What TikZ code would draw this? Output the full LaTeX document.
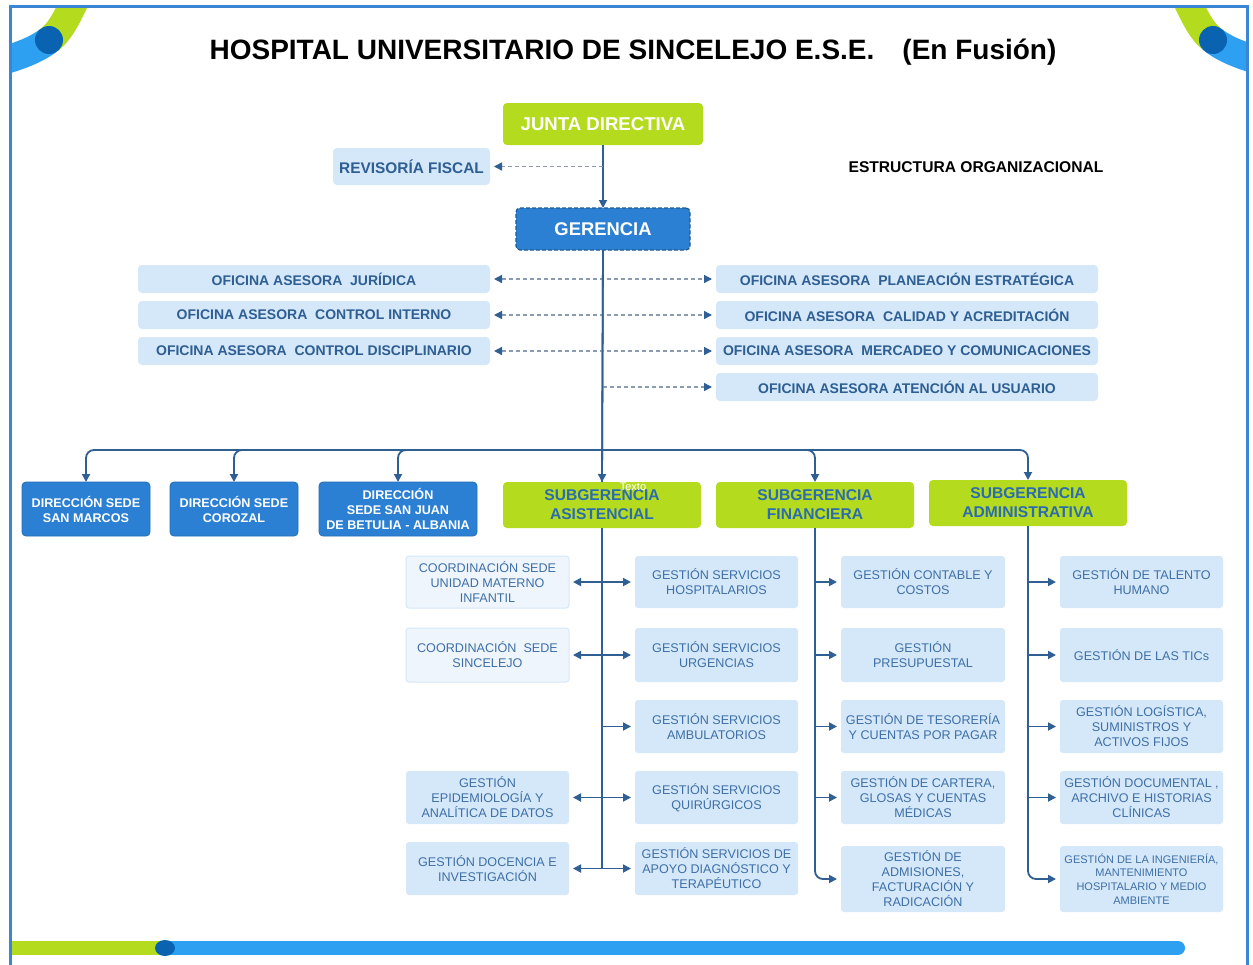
\documentclass[tikz,border=0pt]{standalone}
\usepackage{fontspec}
\setmainfont{Liberation Sans}
\usetikzlibrary{arrows.meta}
\definecolor{frameblue}{HTML}{3A86D2}
\definecolor{bandblue}{HTML}{2EA0F2}
\definecolor{dotblue}{HTML}{0A63B0}
\definecolor{lime}{HTML}{B5DB1E}
\definecolor{boxblue}{HTML}{2B80D4}
\definecolor{lightbox}{HTML}{D5E8F9}
\definecolor{paleb}{HTML}{EEF5FC}
\definecolor{darktxt}{HTML}{2E5E92}
\definecolor{midtxt}{HTML}{3E6FA6}
\definecolor{subtxt}{HTML}{2B6CB0}
\definecolor{conncol}{HTML}{2F5F93}
\definecolor{dashcol}{HTML}{8A9BB2}
\newcommand\bx[7]{\node[#6,minimum width={(#4-#2)*0.5pt},minimum height={(#5-#3)*0.5pt}] (#1) at ({(#2+#4)/2},{(#3+#5)/2}) {#7};}
\tikzset{
  base/.style={inner sep=0pt, outer sep=0pt, align=center},
  litebox/.style={base, fill=lightbox, rounded corners=1.5pt, text=midtxt, font=\fontsize{6.3}{7.5}\selectfont},
  palebox/.style={litebox, fill=paleb, draw=lightbox, line width=0.5pt},
  ofibox/.style={base, fill=lightbox, rounded corners=2pt, text=darktxt, font=\bfseries\fontsize{7}{8}\selectfont},
  dirbox/.style={base, fill=boxblue, draw=boxblue!85!black, line width=0.4pt, rounded corners=2pt, text=white, font=\bfseries\fontsize{6.3}{7.5}\selectfont},
  subbox/.style={base, fill=lime, rounded corners=2pt, text=subtxt, font=\bfseries\fontsize{7.8}{9.5}\selectfont},
  conn/.style={draw=conncol, line width=0.9pt},
  dashconn/.style={draw=dashcol, line width=0.7pt, dash pattern=on 2pt off 1.5pt},
  >={Triangle[length=4pt,width=4pt,color=conncol]}
}
\begin{document}
\begin{tikzpicture}[x=0.5pt,y=-0.5pt]
\useasboundingbox (0,0) rectangle (1253,964);
\fill[white] (0,0) rectangle (1253,964);
% corner decorations
\begin{scope}
\clip (10,6) rectangle (1247,964);
\draw[lime, line width=14pt] (82,-14) .. controls (68,15) and (62,30) .. (49,40);
\draw[bandblue, line width=14pt] (49,40) .. controls (36,50) and (20,56) .. (-8,64);
\fill[dotblue] (49,40) circle[radius=7pt];
\draw[lime, line width=14pt] (1180,-14) .. controls (1194,15) and (1200,30) .. (1213,40);
\draw[bandblue, line width=14pt] (1213,40) .. controls (1226,50) and (1242,56) .. (1270,64);
\fill[dotblue] (1213,40) circle[radius=7pt];
\end{scope}
\draw[frameblue, line width=1.5pt] (10,6) rectangle (1247,970);
% bottom bar
\fill[lime] (12,941) rectangle (165,955);
\draw[bandblue, line width=7pt, line cap=round] (165,948) -- (1178,948);
\fill[dotblue] (165,948) ellipse[x radius=5pt, y radius=4pt];
% titles
\node[base, font=\bfseries\fontsize{14}{16}\selectfont] (title) at (633,52) {HOSPITAL UNIVERSITARIO DE SINCELEJO E.S.E.\hspace{14pt}(En Fusión)};
\node[base, font=\bfseries\fontsize{7.8}{9}\selectfont] (estr) at (976,167) {ESTRUCTURA ORGANIZACIONAL};
% top boxes
\bx{junta}{503}{103}{703}{145}{base, fill=lime, rounded corners=2pt, text=white, font=\bfseries\fontsize{9.3}{11}\selectfont}{JUNTA DIRECTIVA}
\bx{rev}{333}{148}{490}{185}{ofibox, font=\bfseries\fontsize{7.7}{9}\selectfont}{REVISORÍA FISCAL}
\bx{ger}{516}{208}{690}{250}{base, fill=boxblue, draw=boxblue!70!black, line width=0.6pt, dash pattern=on 2pt off 1pt, rounded corners=2pt, text=white, font=\bfseries\fontsize{9.2}{11}\selectfont}{GERENCIA}
% oficinas
\bx{jur}{138}{265}{490}{293}{ofibox}{OFICINA ASESORA~~JURÍDICA}
\bx{cin}{138}{301}{490}{329}{ofibox}{OFICINA ASESORA~~CONTROL INTERNO}
\bx{cdi}{138}{337}{490}{365}{ofibox}{OFICINA ASESORA~~CONTROL DISCIPLINARIO}
\bx{pla}{716}{265}{1098}{293}{ofibox}{OFICINA ASESORA~~PLANEACIÓN ESTRATÉGICA}
\bx{cal}{716}{301}{1098}{329}{ofibox}{OFICINA ASESORA~~CALIDAD Y ACREDITACIÓN}
\bx{mer}{716}{337}{1098}{365}{ofibox}{OFICINA ASESORA~~MERCADEO Y COMUNICACIONES}
\bx{ate}{716}{373}{1098}{401}{ofibox}{OFICINA ASESORA ATENCIÓN AL USUARIO}
% direcciones
\bx{sm}{22}{482}{150}{536}{dirbox}{DIRECCIÓN SEDE\\SAN MARCOS}
\bx{coz}{170}{482}{298}{536}{dirbox}{DIRECCIÓN SEDE\\COROZAL}
\bx{sj}{319}{482}{477}{536}{dirbox}{DIRECCIÓN\\SEDE SAN JUAN\\DE BETULIA - ALBANIA}
% subgerencias
\bx{asis}{503}{482}{701}{528}{subbox}{SUBGERENCIA\\ASISTENCIAL}
\bx{fin}{716}{482}{914}{528}{subbox}{SUBGERENCIA\\FINANCIERA}
\bx{adm}{929}{480}{1127}{526}{subbox}{SUBGERENCIA\\ADMINISTRATIVA}
\node[base, text=white, font=\fontsize{5.5}{6}\selectfont] (texto) at (633,487) {Texto};
% asistencial
\bx{umi}{406}{556}{569}{608}{palebox}{COORDINACIÓN SEDE\\UNIDAD MATERNO\\INFANTIL}
\bx{sin}{406}{628}{569}{682}{palebox}{COORDINACIÓN~~SEDE\\SINCELEJO}
\bx{epi}{406}{771}{569}{824}{litebox}{GESTIÓN\\EPIDEMIOLOGÍA Y\\ANALÍTICA DE DATOS}
\bx{doc}{406}{842}{569}{895}{litebox}{GESTIÓN DOCENCIA E\\INVESTIGACIÓN}
\bx{hos}{635}{556}{798}{608}{litebox}{GESTIÓN SERVICIOS\\HOSPITALARIOS}
\bx{urg}{635}{628}{798}{682}{litebox}{GESTIÓN SERVICIOS\\URGENCIAS}
\bx{amb}{635}{700}{798}{753}{litebox}{GESTIÓN SERVICIOS\\AMBULATORIOS}
\bx{qui}{635}{771}{798}{824}{litebox}{GESTIÓN SERVICIOS\\QUIRÚRGICOS}
\bx{apo}{635}{842}{798}{895}{litebox}{GESTIÓN SERVICIOS DE\\APOYO DIAGNÓSTICO Y\\TERAPÉUTICO}
% financiera
\bx{con}{841}{556}{1005}{608}{litebox}{GESTIÓN CONTABLE Y\\COSTOS}
\bx{pre}{841}{628}{1005}{682}{litebox}{GESTIÓN\\PRESUPUESTAL}
\bx{tes}{841}{700}{1005}{753}{litebox}{GESTIÓN DE TESORERÍA\\Y CUENTAS POR PAGAR}
\bx{car}{841}{771}{1005}{824}{litebox}{GESTIÓN DE CARTERA,\\GLOSAS Y CUENTAS\\MÉDICAS}
\bx{adi}{841}{846}{1005}{912}{litebox}{GESTIÓN DE\\ADMISIONES,\\FACTURACIÓN Y\\RADICACIÓN}
% administrativa
\bx{tal}{1060}{556}{1223}{608}{litebox}{GESTIÓN DE TALENTO\\HUMANO}
\bx{tic}{1060}{628}{1223}{682}{litebox}{GESTIÓN DE LAS TICs}
\bx{log}{1060}{700}{1223}{753}{litebox}{GESTIÓN LOGÍSTICA,\\SUMINISTROS Y\\ACTIVOS FIJOS}
\bx{dcm}{1060}{771}{1223}{824}{litebox}{GESTIÓN DOCUMENTAL ,\\ARCHIVO E HISTORIAS\\CLÍNICAS}
\bx{ing}{1060}{846}{1223}{912}{litebox, font=\fontsize{5.5}{6.8}\selectfont}{GESTIÓN DE LA INGENIERÍA,\\MANTENIMIENTO\\HOSPITALARIO Y MEDIO\\AMBIENTE}
% connectors top
\draw[conn,->] (junta.south) -- (ger.north);
\draw[dashconn,->,shorten >=2pt] (junta.south |- rev.east) -- (rev.east);
\draw[conn,->] (ger.south) -- (asis.north);
\draw[dashconn,<->,shorten >=2pt,shorten <=2pt] (jur.east) -- (pla.west);
\draw[dashconn,<->,shorten >=2pt,shorten <=2pt] (cin.east) -- (cal.west);
\draw[dashconn,<->,shorten >=2pt,shorten <=2pt] (cdi.east) -- (mer.west);
\draw[dashconn,->,shorten >=2pt] (ger.south |- ate.west) -- (ate.west);
\draw[conn] (ger.south) -- (asis.north);
\coordinate (bus) at (603,450);
\draw[conn,->,rounded corners=4pt] (bus) -| (sm.north);
\draw[conn,->,rounded corners=4pt] (bus) -| (coz.north);
\draw[conn,->,rounded corners=4pt] (bus) -| (sj.north);
\draw[conn,->,rounded corners=4pt] (bus) -| (fin.north);
\draw[conn,->,rounded corners=4pt] (bus) -| (adm.north);
% asistencial connectors
\draw[conn] (asis.south) -- (asis.south |- doc.east);
\draw[conn,<->,shorten >=2pt,shorten <=2pt] (umi.east) -- (hos.west);
\draw[conn,<->,shorten >=2pt,shorten <=2pt] (sin.east) -- (urg.west);
\draw[conn,->,shorten >=2pt] (asis.south |- amb.west) -- (amb.west);
\draw[conn,<->,shorten >=2pt,shorten <=2pt] (epi.east) -- (qui.west);
\draw[conn,<->,shorten >=2pt,shorten <=2pt] (doc.east) -- (apo.west);
% financiera connectors
\draw[conn,->,rounded corners=4pt,shorten >=2pt] (fin.south) |- (adi.west);
\draw[conn,->,shorten >=2pt] (fin.south |- con.west) -- (con.west);
\draw[conn,->,shorten >=2pt] (fin.south |- pre.west) -- (pre.west);
\draw[conn,->,shorten >=2pt] (fin.south |- tes.west) -- (tes.west);
\draw[conn,->,shorten >=2pt] (fin.south |- car.west) -- (car.west);
% administrativa connectors
\draw[conn,->,rounded corners=4pt,shorten >=2pt] (adm.south) |- (ing.west);
\draw[conn,->,shorten >=2pt] (adm.south |- tal.west) -- (tal.west);
\draw[conn,->,shorten >=2pt] (adm.south |- tic.west) -- (tic.west);
\draw[conn,->,shorten >=2pt] (adm.south |- log.west) -- (log.west);
\draw[conn,->,shorten >=2pt] (adm.south |- dcm.west) -- (dcm.west);
\end{tikzpicture}
\end{document}
